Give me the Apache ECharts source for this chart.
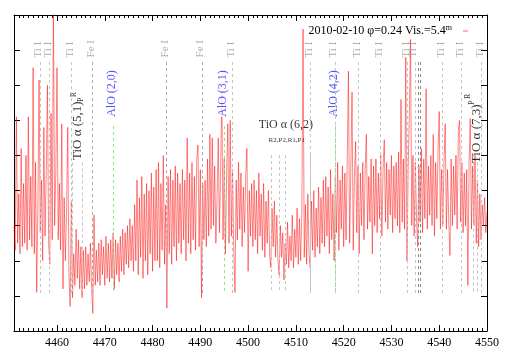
<!DOCTYPE html>
<html><head><meta charset="utf-8">
<script src="https://cdn.jsdelivr.net/npm/echarts@6/dist/echarts.min.js"></script>
<style>html,body{margin:0;padding:0;background:#fff}#c{width:509px;height:356px}</style>
</head><body><div id="c"></div>
<script>
// ---- data ----
const xStart = 4451.0, xStep = 0.25;
const flux = [
3.0,2.3,6.1,2.5,3.9,2.2,5.2,2.4,4.2,2.5,5.0,2.3,6.1,2.6,4.4,2.4,7.5,2.2,4.8,1.1,
3.5,7.15,2.8,4.3,2.0,5.8,2.7,4.5,7.0,2.5,1.9,6.2,2.6,9.5,3.0,4.5,7.5,2.6,4.2,2.3,
5.9,1.2,3.8,2.0,3.4,5.8,1.6,0.7,3.7,0.95,2.2,1.3,2.9,1.5,2.6,1.2,2.4,0.95,2.3,1.2,
2.4,1.3,2.2,1.4,2.5,1.2,0.5,3.3,1.3,2.3,1.4,2.5,1.3,2.6,1.6,2.4,1.3,2.7,1.5,2.5,
1.4,2.6,1.5,2.8,1.2,2.6,1.6,2.5,1.4,2.7,1.7,2.9,1.6,2.8,1.9,3.0,1.8,3.2,2.0,3.0,
1.7,3.6,2.0,4.3,1.6,3.8,2.1,4.4,1.5,3.9,2.0,4.2,1.6,4.0,2.2,4.5,1.7,4.1,2.0,4.6,
2.0,4.8,1.8,4.2,2.3,5.0,1.9,3.6,0.65,4.4,2.2,4.6,1.9,4.3,2.4,4.7,2.0,4.5,2.5,4.2,
2.2,4.6,2.6,4.3,2.0,5.5,2.5,4.5,2.2,4.8,2.6,4.4,2.3,4.9,5.3,2.4,4.6,0.95,4.2,2.6,
4.3,2.4,4.9,2.7,5.6,2.9,5.5,3.0,4.7,2.5,3.8,5.5,2.8,4.6,6.8,2.6,4.9,2.2,4.4,5.9,
2.5,6.0,2.7,4.6,2.3,1.1,4.3,2.6,4.8,2.9,4.5,2.4,4.1,2.8,4.4,5.2,1.7,4.0,2.7,4.2,
2.4,4.3,2.6,4.0,2.2,4.5,2.7,3.9,2.3,4.2,2.1,3.7,2.5,4.0,2.2,1.8,3.5,2.4,3.7,2.1,
3.3,2.0,1.6,3.0,2.1,2.8,1.45,2.5,1.9,3.1,1.8,2.7,2.0,3.3,1.8,2.9,2.1,3.5,1.9,3.2,
2.0,3.4,8.6,2.1,3.6,1.9,3.9,2.2,1.8,3.7,2.3,4.0,2.1,3.5,2.4,4.1,2.2,3.8,2.5,4.3,
2.4,4.4,2.7,4.1,2.2,4.6,2.6,3.9,2.0,4.4,2.8,4.8,2.3,4.3,2.9,4.7,2.4,4.5,2.6,4.9,
7.4,2.5,4.6,6.8,2.3,4.4,5.4,2.8,4.7,2.2,4.5,3.0,4.8,2.6,4.6,5.6,2.9,4.4,3.1,4.9,
2.2,4.7,3.0,4.9,2.8,4.5,3.2,5.0,2.7,4.6,5.45,3.1,4.8,2.9,4.6,3.3,5.0,2.8,4.7,3.2,
4.8,3.0,5.1,2.8,6.6,3.1,4.9,2.9,7.8,2.0,4.6,6.2,8.3,3.0,5.0,2.7,4.8,3.2,2.4,4.7,
3.1,5.2,2.8,4.9,3.2,6.9,2.9,4.7,3.3,5.0,3.0,5.6,2.7,4.8,3.2,5.1,6.25,2.9,4.6,3.0,
4.8,5.9,2.9,4.6,3.1,2.15,4.9,3.0,4.7,3.3,5.0,2.9,5.7,6.0,3.1,4.8,2.8,4.5,3.0,4.6,
1.3,4.8,6.05,2.9,4.7,3.0,5.0,2.5,4.3,2.4,3.9,2.6,3.6,3.0,3.8,2.8,3.4
];
const tiI = [4456.39,4458.48,4463.0,4496.72,4513.11,4518.18,4523.05,4527.65,4533.38,4534.9,4540.61,4544.66,4548.84];
const feI = [4467.46,4482.87,4490.33];
const darkLines = [4535.59,4535.95];
const tio51 = [4463.28,4465.25];
const tio62 = [4504.81,4506.54,4507.67,4513.11];
const tio73 = [4547.09,4548.01];
const alo = [4471.85,4494.99,4518.18];
const aloNames = ['AlO (2,0)','AlO (3,1)','AlO (4,2)'];
const legendName = '2010-02-10 φ=0.24 Vis.=5.4';

// ---- build ----
const FONT = 'Liberation Serif';
const chart = echarts.init(document.getElementById('c'), null, {renderer:'canvas'});
const spec = flux.map((v,i)=>[xStart + i*xStep, v]);

function vl(arr, y1, y2, color){
  return arr.map(l=>[{coord:[l,y1], lineStyle:{color:color, type:[3,3], width:1}},{coord:[l,y2]}]);
}
const lineTop = 7.66, lineBot = 1.08;
const mlData = [].concat(
  vl(tiI, lineTop, lineBot, '#c4c4c4'),
  vl(feI, lineTop, lineBot, '#ababab'),
  vl(darkLines, lineTop, lineBot, '#8a8a8a'),
  vl(tio51, 4.8, lineBot, '#c4c4c4'),
  vl(tio62, 5.01, lineBot, '#c4c4c4'),
  vl(tio73, 4.8, lineBot, '#c4c4c4'),
  vl(alo, 5.84, lineBot, '#8ae88a')
);

const labels = [];
function lab(x,y,txt,st){ labels.push({value:[x,y], label:Object.assign({show:true, formatter:txt}, st)}); }
const rotGrey = {rotate:90, align:'left', verticalAlign:'middle', color:'#9a9a9a', fontSize:11, fontFamily:FONT};
tiI.forEach(l=>lab(l-0.3, 7.79, 'Ti I', rotGrey));
feI.forEach(l=>lab(l-0.3, 7.79, 'Fe I', rotGrey));
const rotBlue = {rotate:90, align:'left', verticalAlign:'middle', color:'#2a2aff', fontSize:12, fontFamily:FONT, backgroundColor:'#fff'};
alo.forEach((l,i)=>lab(l-0.3, 6.1, aloNames[i], rotBlue));
const rotBlack = {rotate:90, align:'left', verticalAlign:'middle', color:'#000', fontSize:13, fontFamily:FONT};
const sup = {rotate:90, align:'left', verticalAlign:'middle', color:'#000', fontSize:8, fontFamily:FONT};
lab(4464.4, 4.87, 'TiO α (5,1)', rotBlack);
lab(4463.49, 6.66, 'R', sup);
lab(4465.1, 6.52, 'P', sup);
lab(4547.8, 4.78, 'TiO α (7,3)', rotBlack);
lab(4546.04, 6.61, 'R', sup);
lab(4546.88, 6.44, 'P', sup);
lab(4507.9, 5.87, 'TiO α (6,2)', {rotate:0, align:'center', verticalAlign:'middle', color:'#000', fontSize:12, fontFamily:FONT});
lab(4508.1, 5.44, 'R2,P2,R1,P1', {rotate:0, align:'center', verticalAlign:'middle', color:'#000', fontSize:7, fontFamily:FONT});

const xa = (pos, showLab)=>({
  type:'value', position:pos, min:4451, max:4550, splitNumber:10,
  axisLine:{show:true, onZero:false, lineStyle:{color:'#000', width:1}},
  axisTick:{show:true, inside:true, length:6, lineStyle:{color:'#000'}},
  minorTick:{show:true, splitNumber:10, length:3, lineStyle:{color:'#000'}},
  splitLine:{show:false}, minorSplitLine:{show:false},
  axisLabel:{show:showLab, fontFamily:FONT, fontSize:12, color:'#000', margin:6, showMinLabel:false,
             formatter: v=>String(Math.round(v))}
});
const ya = (pos)=>({
  type:'value', position:pos, min:0, max:9, interval:1,
  axisLine:{show:true, onZero:false, lineStyle:{color:'#000', width:1}},
  axisTick:{show:true, inside:true, length:6, lineStyle:{color:'#000'}},
  axisLabel:{show:false}, splitLine:{show:false}
});

chart.setOption({
  animation:false,
  backgroundColor:'#fff',
  grid:{left:14, right:22, top:15, bottom:25, containLabel:false},
  xAxis:[xa('bottom', true), xa('top', false)],
  yAxis:[ya('left'), ya('right')],
  legend:{
    data:[{name:legendName, icon:'rect'}],
    right:36, top:19, align:'right', itemWidth:5, itemHeight:1.2, itemGap:0,
    formatter: n=>'{a|'+n+'}{s|m}',
    textStyle:{padding:[0,6,0,0], rich:{
      a:{fontFamily:FONT, fontSize:12, color:'#000', lineHeight:14},
      s:{fontFamily:FONT, fontSize:8, color:'#000', verticalAlign:'top', lineHeight:14, padding:[0,0,6,0]}
    }}
  },
  series:[
    {name:legendName, type:'line', data:spec, showSymbol:false, symbol:'none', z:2,
     lineStyle:{color:'rgba(255,0,0,0.48)', width:1}, itemStyle:{color:'#ff8080'}, clip:true},
    {type:'line', data:[], z:3, silent:true,
     markLine:{symbol:['none','none'], silent:true, animation:false, label:{show:false}, data:mlData}},
    {type:'scatter', data:labels, symbolSize:0, z:4, silent:true,
     label:{show:true, position:'inside'}}
  ]
});
</script></body></html>
